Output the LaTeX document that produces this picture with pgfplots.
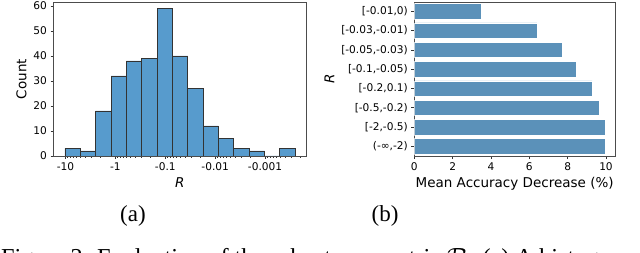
\documentclass[border=0pt]{standalone}
\usepackage{pgfplots}
\pgfplotsset{compat=1.18}
\usepackage{fontspec}
\setmainfont{DejaVu Sans}
\newfontfamily\capfont{Liberation Serif}
\definecolor{histblue}{RGB}{87,155,205}
\definecolor{barblue}{RGB}{91,145,185}
\begin{document}
\begin{tikzpicture}[x=1pt,y=1pt]
\useasboundingbox (0pt,0pt) rectangle (640pt,252pt);
\pgfplotsset{
  every axis/.append style={
    scale only axis,
    tick align=outside,
    xtick pos=bottom, ytick pos=left,
    major tick length=3pt, minor tick length=1.8pt,
    tick style={black!80, line width=0.6pt},
    axis line style={black!70, line width=0.8pt},
    ticklabel style={font=\fontsize{10.6}{12}\selectfont},
    label style={font=\fontsize{13.5}{16}\selectfont},
    /pgf/number format/assume math mode=true,
  }
}
\begin{axis}[
  at={(53.5pt,96pt)}, anchor=south west, width=252.5pt, height=154pt,
  xmin=-1.24, xmax=3.82, ymin=0, ymax=61.6,
  xtick={-1,0,1,2,3}, xticklabels={-10,-1,-0.1,-0.01,-0.001},
  minor xtick={-0.301,-0.477,-0.602,-0.699,-0.778,-0.845,-0.903,-0.954,
    0.699,0.523,0.398,0.301,0.222,0.155,0.097,0.046,
    1.699,1.523,1.398,1.301,1.222,1.155,1.097,1.046,
    2.699,2.523,2.398,2.301,2.222,2.155,2.097,2.046,
    3.699,3.523,3.398,3.301,3.222,3.155,3.097,3.046},
  ytick={0,10,...,60},
  xlabel={\textit{R}}, ylabel={Count},
]
\addplot[ybar interval, fill=histblue, draw=black!80, line width=0.8pt] coordinates {
  (-1.010,3) (-0.702,2) (-0.395,18) (-0.087,32) (0.220,38) (0.528,39)
  (0.836,59) (1.143,40) (1.451,27) (1.758,12) (2.066,7) (2.374,3)
  (2.681,2) (2.989,0) (3.296,3) (3.604,3)};
\end{axis}
\begin{axis}[
  at={(414.3pt,96pt)}, anchor=south west, width=200.7pt, height=154pt,
  xbar, xmin=0, xmax=10.47, ymin=-0.48, ymax=7.5, y dir=reverse,
  ytick={0,...,7},
  yticklabels={{[-0.01,0)},{[-0.03,-0.01)},{[-0.05,-0.03)},{[-0.1,-0.05)},{[-0.2,0.1)},{[-0.5,-0.2)},{[-2,-0.5)},{(-∞,-2)}},
  xtick={0,2,...,10},
  bar width=15.4pt,
  xlabel={Mean Accuracy Decrease (\%)}, ylabel={\textit{R}},
]
\addplot[xbar, fill=barblue, draw=white, line width=0.4pt] coordinates {
  (3.50,0) (6.40,1) (7.72,2) (8.43,3) (9.27,4) (9.67,5) (9.95,6) (9.98,7)};
\end{axis}
\node[font=\capfont\fontsize{23}{28}\selectfont] at (133pt,36pt) {(a)};
\node[font=\capfont\fontsize{23}{28}\selectfont] at (385pt,36pt) {(b)};
\node[anchor=base west, inner sep=0, font=\capfont\fontsize{24.3}{28}\selectfont] at (1pt,-13pt) {Figure 2. Evaluation of the robustness metric $\mathcal{R}$. (a) A histogram of the};
\end{tikzpicture}
\end{document}
